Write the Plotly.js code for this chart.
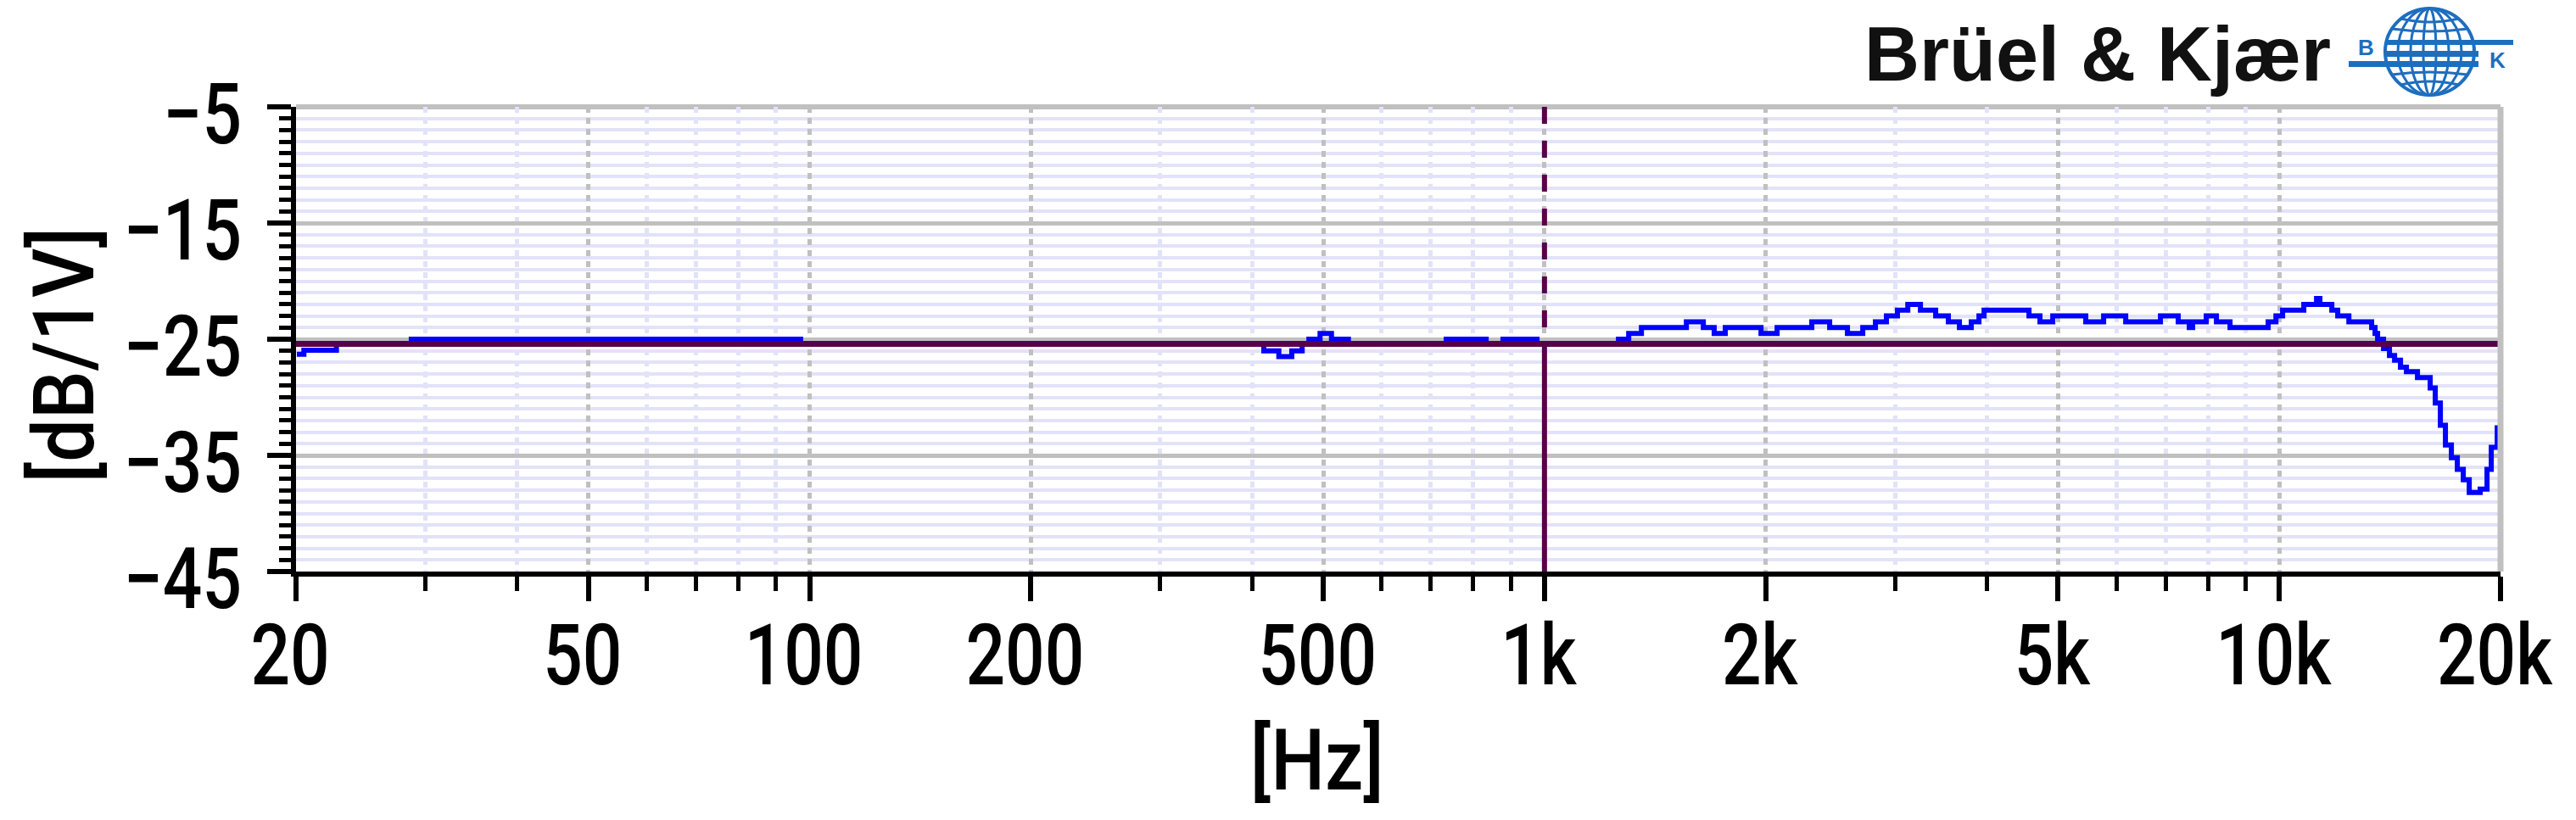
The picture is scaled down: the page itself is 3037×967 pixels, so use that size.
<!DOCTYPE html>
<html>
<head>
<meta charset="utf-8">
<script src="https://cdn.plot.ly/plotly-3.0.1.min.js"></script>
<style>
html,body{margin:0;padding:0;background:#fff;}
#chart{width:3037px;height:967px;}
</style>
</head>
<body>
<div id="chart"></div>
<script>
// ---------------- data ----------------
const freqHz = [20.05, 20.5, 22.7, 28.7, 97.2, 415, 435, 453, 468, 478, 495, 513, 541, 735, 833, 878, 977,
  1261, 1302, 1355, 1560, 1645, 1702, 1762, 1971, 2073, 2311, 2444, 2584, 2711, 2821, 2920, 3022, 3122,
  3248, 3407, 3545, 3670, 3809, 3902, 3965, 4564, 4724, 4917, 5453, 5767, 6180, 6891, 7285, 7541, 7622,
  7954, 8212, 8569, 9657, 9895, 10104, 10798, 11238, 11357, 11789, 12009, 12436, 13356, 13499, 13607,
  13863, 14123, 14351, 14619, 14894, 15418, 16045, 16303, 16565, 16830, 17147, 17469, 17798, 18133,
  18767, 19172, 19429, 19794];
const levelDb = [-26.3, -25.95, -25.4, -25.0, -25.4, -26.0, -26.5, -26.0, -25.4, -25.0, -24.5, -25.0, -25.4, -25.0, -25.4, -25.0, -25.4,
  -25.0, -24.5, -24.0, -23.5, -24.0, -24.5, -24.0, -24.5, -24.0, -23.5, -24.0, -24.5, -24.0, -23.5, -23.0, -22.5, -22.0,
  -22.5, -23.0, -23.5, -24.0, -23.5, -23.0, -22.5, -23.0, -23.5, -23.0, -23.5, -23.0, -23.5, -23.0, -23.5, -24.0, -23.5,
  -23.0, -23.5, -24.0, -23.5, -23.0, -22.5, -22.0, -21.5, -22.0, -22.5, -23.0, -23.5, -24.0, -24.5, -25.0,
  -25.8, -26.4, -26.8, -27.4, -27.8, -28.3, -29.2, -30.5, -32.4, -34.1, -35.2, -36.2, -37.1, -38.2,
  -37.9, -36.2, -34.3, -32.4];
const referenceDb = -25.4;          // horizontal reference line
const cursorHz = 1000;              // vertical cursor
const freqRange = [20, 20000];
const levelRange = [-45, -5];
const xTickVals = [20, 50, 100, 200, 500, 1000, 2000, 5000, 10000, 20000];
const xTickText = ['20', '50', '100', '200', '500', '1k', '2k', '5k', '10k', '20k'];
const xMinorVals = [30, 40, 60, 70, 80, 90, 300, 400, 600, 700, 800, 900, 3000, 4000, 6000, 7000, 8000, 9000];
const yTickVals = [-45, -35, -25, -15, -5];
const yTickText = ['\u221245', '\u221235', '\u221225', '\u221215', '\u22125'];
const xTitle = '[Hz]';
const yTitle = '[dB/1V]';
const brandText = 'Brüel & Kjær';

// ---------------- geometry / style ----------------
const W = 3037, H = 967;
const PL = 349, PR = 2948, PT = 126, PB = 674;
const px = X => (X - PL) / (PR - PL);
const py = Y => (PB - Y) / (PB - PT);
const FONT = 'Roboto, "Liberation Sans", sans-serif';
const LOGO_BLUE = '#1e6ebe';
const PURPLE = '#58004a';
const LAVENDER = '#e2e2f9';
const GREY = '#c0c0c0';

const traces = [
  {x: freqHz, y: levelDb, type: 'scatter', mode: 'lines',
   line: {color: '#0000ff', width: 6, shape: 'hv'}, hoverinfo: 'skip'},
  {x: freqRange, y: [referenceDb, referenceDb], type: 'scatter', mode: 'lines',
   line: {color: PURPLE, width: 7}, hoverinfo: 'skip'},
  {x: [cursorHz, cursorHz], y: [levelRange[1], referenceDb], type: 'scatter', mode: 'lines',
   line: {color: PURPLE, width: 6, dash: '20px,20px'}, hoverinfo: 'skip'},
  {x: [cursorHz, cursorHz], y: [referenceDb, levelRange[0]], type: 'scatter', mode: 'lines',
   line: {color: PURPLE, width: 6}, hoverinfo: 'skip'}
];

// globe logo
const gcx = 2864.5, gcy = 61, grx = 52.5, gry = 51;
const shapes = [
  {type: 'line', xref: 'paper', yref: 'paper', x0: 0, x1: 1, y0: 1, y1: 1, line: {color: GREY, width: 6}, layer: 'between'},
  {type: 'line', xref: 'paper', yref: 'paper', x0: 1, x1: 1, y0: 0, y1: 1, line: {color: GREY, width: 7}, layer: 'above'},
];
function ell(rx, w) {
  shapes.push({type: 'circle', xref: 'paper', yref: 'paper',
    x0: px(gcx - rx), x1: px(gcx + rx), y0: py(gcy + gry), y1: py(gcy - gry),
    line: {color: LOGO_BLUE, width: w}, fillcolor: 'rgba(0,0,0,0)', layer: 'above'});
}
ell(grx, 4); ell(37.5, 3); ell(22.5, 3); ell(7.5, 3);
function parallel(yy, bow) {
  const dy = yy - gcy;
  const hw = grx * Math.sqrt(Math.max(0, 1 - (dy / gry) * (dy / gry)));
  const xl = px(gcx - hw), xr = px(gcx + hw), xc = px(gcx);
  shapes.push({type: 'path', xref: 'paper', yref: 'paper',
    path: `M ${xl} ${py(yy)} Q ${xc} ${py(yy + bow)} ${xr} ${py(yy)}`,
    line: {color: LOGO_BLUE, width: 3}, layer: 'above'});
}
parallel(22, 8); parallel(34, 6); parallel(88, -6); parallel(100, -8);
function bar(x0, x1, y0, y1) {
  shapes.push({type: 'rect', xref: 'paper', yref: 'paper', x0: px(x0), x1: px(x1), y0: py(y1), y1: py(y0),
    fillcolor: LOGO_BLUE, line: {width: 0}, layer: 'above'});
}
bar(2812, 2963, 47, 53);
bar(2812, 2922, 60, 67);
bar(2769, 2922, 72, 79);

const annotations = [
  {text: xTitle, xref: 'paper', yref: 'paper', x: px(1553), y: py(896), xanchor: 'center', yanchor: 'middle',
   showarrow: false, font: {family: FONT, size: 100, color: '#000', weight: 500}},
  {text: yTitle, xref: 'paper', yref: 'paper', x: px(75), y: py(419), xanchor: 'center', yanchor: 'middle',
   textangle: -90, showarrow: false, font: {family: FONT, size: 100, color: '#000', weight: 500}},
  {text: brandText, xref: 'paper', yref: 'paper', x: px(2750), y: py(64), xanchor: 'right', yanchor: 'middle',
   showarrow: false, font: {family: '"Liberation Sans", Arial, sans-serif', size: 90, color: '#111', weight: 'bold'}},
  {text: 'B', xref: 'paper', yref: 'paper', x: px(2789), y: py(56), xanchor: 'center', yanchor: 'middle',
   showarrow: false, font: {family: '"Liberation Sans", Arial, sans-serif', size: 26, color: LOGO_BLUE, weight: 'bold'}},
  {text: 'K', xref: 'paper', yref: 'paper', x: px(2944), y: py(71), xanchor: 'center', yanchor: 'middle',
   showarrow: false, font: {family: '"Liberation Sans", Arial, sans-serif', size: 26, color: LOGO_BLUE, weight: 'bold'}}
];

const layout = {
  width: W, height: H,
  margin: {l: PL, r: W - PR, t: PT, b: H - PB, pad: 0},
  paper_bgcolor: '#ffffff', plot_bgcolor: '#ffffff',
  showlegend: false,
  xaxis: {
    type: 'log', range: [Math.log10(freqRange[0]), Math.log10(freqRange[1])],
    tickmode: 'array', tickvals: xTickVals, ticktext: xTickText,
    ticks: 'outside', ticklen: 29, tickwidth: 6, tickcolor: '#000',
    showline: true, linecolor: '#000', linewidth: 6,
    showgrid: true, gridcolor: GREY, gridwidth: 5, griddash: '7px,6px',
    minor: {tickmode: 'array', tickvals: xMinorVals, ticks: 'outside', ticklen: 17, tickwidth: 5, tickcolor: '#000',
            showgrid: true, gridcolor: LAVENDER, gridwidth: 5},
    tickfont: {family: FONT, size: 100, color: '#000', weight: 500},
    ticklabelstandoff: -22, ticklabelshift: -7,
    zeroline: false, fixedrange: true, automargin: false
  },
  yaxis: {
    range: levelRange,
    tickmode: 'array', tickvals: yTickVals, ticktext: yTickText,
    ticks: 'outside', ticklen: 28, tickwidth: 6, tickcolor: '#000',
    showline: true, linecolor: '#000', linewidth: 6,
    showgrid: true, gridcolor: GREY, gridwidth: 5,
    minor: {dtick: 1, tick0: -45, ticks: 'outside', ticklen: 14, tickwidth: 5, tickcolor: '#000',
            showgrid: true, gridcolor: LAVENDER, gridwidth: 4},
    tickfont: {family: FONT, size: 100, color: '#000', weight: 500},
    ticklabelstandoff: 10, ticklabelshift: 8,
    zeroline: false, fixedrange: true, automargin: false
  },
  shapes: shapes,
  annotations: annotations
};

// narrow the DIN-like labels (real text, glyphs compressed horizontally)
function condense(el, f) {
  const w = el.getComputedTextLength();
  if (w > 0) {
    el.setAttribute('textLength', (w * f).toFixed(1));
    el.setAttribute('lengthAdjust', 'spacingAndGlyphs');
  }
}
Plotly.newPlot('chart', traces, layout, {staticPlot: true, displayModeBar: false}).then(gd => {
  gd.querySelectorAll('.xtick text, .ytick text').forEach(t => condense(t, 0.82));
  gd.querySelectorAll('.annotation').forEach((a, i) => {
    if (i < 2) a.querySelectorAll('text').forEach(t => condense(t, 0.9));
  });
});
</script>
</body>
</html>
